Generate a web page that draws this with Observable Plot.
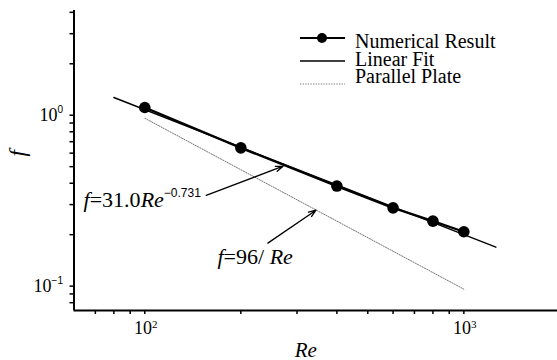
<!DOCTYPE html>
<html><head><meta charset="utf-8">
<script src="https://cdn.jsdelivr.net/npm/d3@7"></script>
<script src="https://cdn.jsdelivr.net/npm/@observablehq/plot@0.6"></script>
<style>body{margin:0;background:#fff}#chart{width:557px;height:360px;overflow:hidden}</style>
</head><body><div id="chart"></div>
<script>
// Numerical result
const numRe = [100, 200, 400, 600, 800, 1000];
const numF = [1.11, 0.644, 0.385, 0.287, 0.240, 0.208];
// Linear fit (end points)
const fitRe = [80, 1260];
const fitF = [1.27, 0.169];
// Parallel plate f = 96/Re (end points)
const ppRe = [100, 1000];
const ppF = [0.96, 0.096];
// Ticks and labels
const xTicks = [70, 80, 90, 100, 200, 300, 400, 500, 600, 700, 800, 900, 1000];
const yTicks = [0.08, 0.09, 0.1, 0.2, 0.3, 0.4, 0.5, 0.6, 0.7, 0.8, 0.9, 1, 2, 3, 4];
const xTickLabels = [{v: 100, e: "2"}, {v: 1000, e: "3"}];
const yTickLabels = [{v: 1, e: "0"}, {v: 0.1, e: "\u22121"}];
const legendNames = ["Numerical Result", "Linear Fit", "Parallel Plate"];
// Annotations
const annoFit = {x: 64.3, y: 0.2895, coef: "31.0", exp: "\u22120.731"};
const annoPP = {x: 169, y: 0.1356, num: "96"};
const arrows = [
  {x1: 155.7, y1: 0.340, x2: 271.3, y2: 0.503},
  {x1: 243, y1: 0.1785, x2: 344, y2: 0.278}
];

const num = numRe.map((r, i) => ({re: r, f: numF[i]}));
const fit = fitRe.map((r, i) => ({re: r, f: fitF[i]}));
const pp = ppRe.map((r, i) => ({re: r, f: ppF[i]}));

const serif = '"Times New Roman","Liberation Serif",Times,serif';
const sans = '"Liberation Sans",Arial,Helvetica,sans-serif';
const it = s => `<tspan font-style="italic">${s}</tspan>`;
const sup = (s, dy, size, cls) => `<tspan dy="${dy}" font-size="${size}" class="${cls || "sup-serif"}">${s}</tspan>`;

const plot = Plot.plot({
  width: 557, height: 360,
  marginTop: 10, marginBottom: 50, marginLeft: 73.5, marginRight: 0,
  style: {fontFamily: serif, fontSize: "18px", background: "white", overflow: "visible", color: "black"},
  x: {type: "log", domain: [60, 2000], range: [73.5, 559.4], label: null},
  y: {type: "log", domain: [0.072, 4.1], range: [310, 10], label: null},
  marks: [
    Plot.axisX({ticks: xTicks, tickSize: 4, tickFormat: () => "", strokeWidth: 1.5}),
    Plot.axisY({ticks: yTicks, tickSize: 4, tickFormat: () => "", strokeWidth: 1.5}),
    Plot.ruleX([60], {strokeWidth: 2}),
    Plot.ruleY([0.072], {strokeWidth: 2}),
    Plot.line(pp, {x: "re", y: "f", stroke: "#777", strokeWidth: 1, strokeDasharray: "1.3,1.3"}),
    Plot.line(fit, {x: "re", y: "f", stroke: "black", strokeWidth: 1.4}),
    Plot.line(num, {x: "re", y: "f", stroke: "black", strokeWidth: 2.3}),
    Plot.dot(num, {x: "re", y: "f", r: 5.8, fill: "black", stroke: "none"}),
    Plot.text(xTickLabels, {x: "v", frameAnchor: "bottom", dy: 23, dx: 1, lineAnchor: "bottom", textAnchor: "middle", fill: "black", fontSize: 18,
      text: d => "10" + sup(d.e, -6, 11)}),
    Plot.text(yTickLabels, {y: "v", frameAnchor: "left", dx: -11, lineAnchor: "middle", textAnchor: "end", fill: "black", fontSize: 18,
      text: d => "10" + sup(d.e, -7.5, 10, "sup-sans")}),
    Plot.text(["Re"], {frameAnchor: "bottom", dx: -10, dy: 46, lineAnchor: "bottom", textAnchor: "middle", fontStyle: "italic", fontSize: 21, fill: "black"}),
    Plot.text(["f"], {frameAnchor: "left", dx: -56.5, dy: -4, rotate: -90, fontStyle: "italic", fontSize: 23, fill: "black"}),
    Plot.text([annoFit], {x: "x", y: "y", textAnchor: "start", lineAnchor: "bottom", fontSize: 22, fill: "black",
      text: d => it("f") + "=" + d.coef + it("Re") + sup(d.exp, -10, 12, "sup-sans")}),
    Plot.text([annoPP], {x: "x", y: "y", textAnchor: "start", lineAnchor: "bottom", fontSize: 22, fill: "black",
      text: d => it("f") + "=" + d.num + "/ " + it("Re")}),
    Plot.arrow(arrows, {x1: "x1", y1: "y1", x2: "x2", y2: "y2", stroke: "black", strokeWidth: 1.3, headLength: 9, headAngle: 40})
  ]
});

plot.querySelectorAll("text").forEach(t => {
  if (t.textContent.includes("<tspan")) t.innerHTML = t.textContent;
  t.style.setProperty("font-family", serif, "important");
});
plot.querySelectorAll("tspan.sup-sans").forEach(t => { t.style.setProperty("font-family", sans, "important"); });

// Legend
const svg = d3.select(plot);
const lg = svg.append("g").attr("text-anchor", "start").style("font-family", serif).attr("font-size", 20);
legendNames.forEach((name, i) => {
  const ly = 38 + i * 23;
  const line = lg.append("line").attr("x1", 300).attr("x2", 345).attr("y1", ly).attr("y2", ly).attr("stroke", "black");
  if (i === 0) {
    line.attr("stroke-width", 1.8);
    lg.append("circle").attr("cx", 322).attr("cy", ly).attr("r", 5).attr("fill", "black");
  } else if (i === 1) {
    line.attr("stroke-width", 1.4);
  } else {
    line.attr("stroke", "#777").attr("stroke-width", 1).attr("stroke-dasharray", "1.3,1.3");
  }
  lg.append("text").attr("x", 355).attr("y", 48 + i * 17.5).attr("fill", "black").attr("text-anchor", "start").style("font-family", serif).text(name);
});

document.getElementById("chart").appendChild(plot);
</script>
</body></html>
